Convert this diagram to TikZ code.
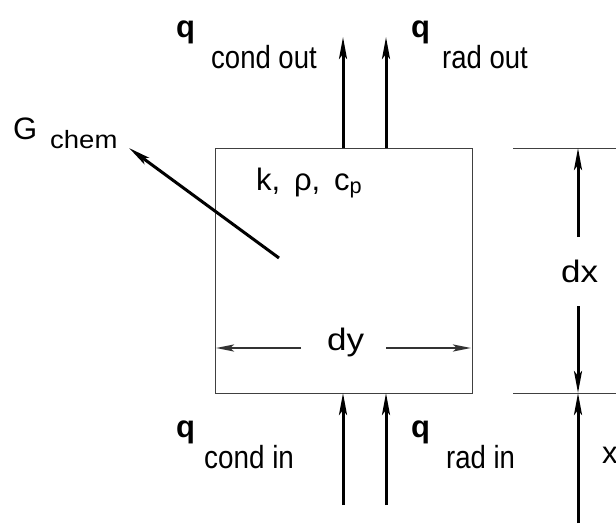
\documentclass[tikz,border=0pt]{standalone}
\usepackage{graphicx}
\usepackage{fontspec}
\setmainfont{Liberation Sans}
\usetikzlibrary{arrows.meta}
\newcommand\hsc[2]{\scalebox{#1}[1]{#2}}
\begin{document}
\begin{tikzpicture}[x=1pt,y=-1pt,
  lab/.style={inner sep=0pt,anchor=base west},
  qq/.style={lab,font=\fontsize{31}{31}\selectfont\bfseries},
  big/.style={lab,font=\fontsize{31}{31}\selectfont},
  sub/.style={lab,font=\fontsize{32}{32}\selectfont},
  flux/.style={line width=3pt,-{Stealth[length=22pt,width=8pt,inset=5pt]}},
  dim/.style={line width=2.4pt,draw=black!80,-{Stealth[length=18pt,width=7pt,inset=4pt]}},
  thin/.style={line width=0.9pt,draw=black!75}]
\useasboundingbox (0,0) rectangle (616,523);
\clip (0,0) rectangle (616,523);
% box
\node[thin,draw,minimum width=257pt,minimum height=245pt,inner sep=0pt,anchor=north west] (box) at (215,148) {};
% flux coordinates
\coordinate (cot) at (343,37);
\coordinate (rot) at (386,37);
\coordinate (cob) at (343,148);
\coordinate (rob) at (386,148);
\coordinate (cit) at (343,393);
\coordinate (rit) at (386,393);
\coordinate (cib) at (343,505);
\coordinate (rib) at (386,505);
\draw[flux] (cob) -- (cot);
\draw[flux] (rob) -- (rot);
\draw[flux] (cib) -- (cit);
\draw[flux] (rib) -- (rit);
% labels
\node[qq] (q1) at (176,37) {q};
\node[sub] (s1) at (211,68) {\hsc{0.86}{cond out}};
\node[qq] (q2) at (411,37) {q};
\node[sub] (s2) at (442,68) {\hsc{0.86}{rad out}};
\node[qq] (q3) at (176,437) {q};
\node[sub] (s3) at (204,468) {\hsc{0.87}{cond in}};
\node[qq] (q4) at (411,437) {q};
\node[sub] (s4) at (446,468) {\hsc{0.86}{rad in}};
% G chem
\node[big] (G) at (13,139) {G};
\node[lab,font=\fontsize{25}{25}\selectfont] (chem) at (50,148) {\hsc{1.1}{chem}};
\coordinate (gs) at (279,258);
\coordinate (ge) at (129,148);
\draw[flux] (gs) -- (ge);
% properties
\node[big] (props) at (256,190) {k,\, ρ,\, c\textsubscript{p}};
% dy
\node[big] (dy) at (327,350) {\hsc{1.13}{dy}};
\coordinate (dyl0) at (301,348);
\coordinate (dyl1) at (216,348);
\coordinate (dyr0) at (386,348);
\coordinate (dyr1) at (471,348);
\draw[dim] (dyl0) -- (dyl1);
\draw[dim] (dyr0) -- (dyr1);
% right dimension lines
\coordinate (t0) at (513,148);
\coordinate (t1) at (616,148);
\coordinate (b0) at (513,393);
\coordinate (b1) at (616,393);
\draw[thin] (t0) -- (t1);
\draw[thin] (b0) -- (b1);
\coordinate (dxa) at (578,237);
\coordinate (dxt) at (578,148);
\coordinate (dxb0) at (578,306);
\coordinate (dxb) at (578,393);
\coordinate (xb) at (578,523);
\draw[flux] (dxa) -- (dxt);
\draw[flux] (dxb0) -- (dxb);
\draw[flux] (xb) -- (dxb);
\node[big] (dx) at (561,282) {\hsc{1.13}{dx}};
\node[big] (x) at (602,463) {x};
\end{tikzpicture}
\end{document}
